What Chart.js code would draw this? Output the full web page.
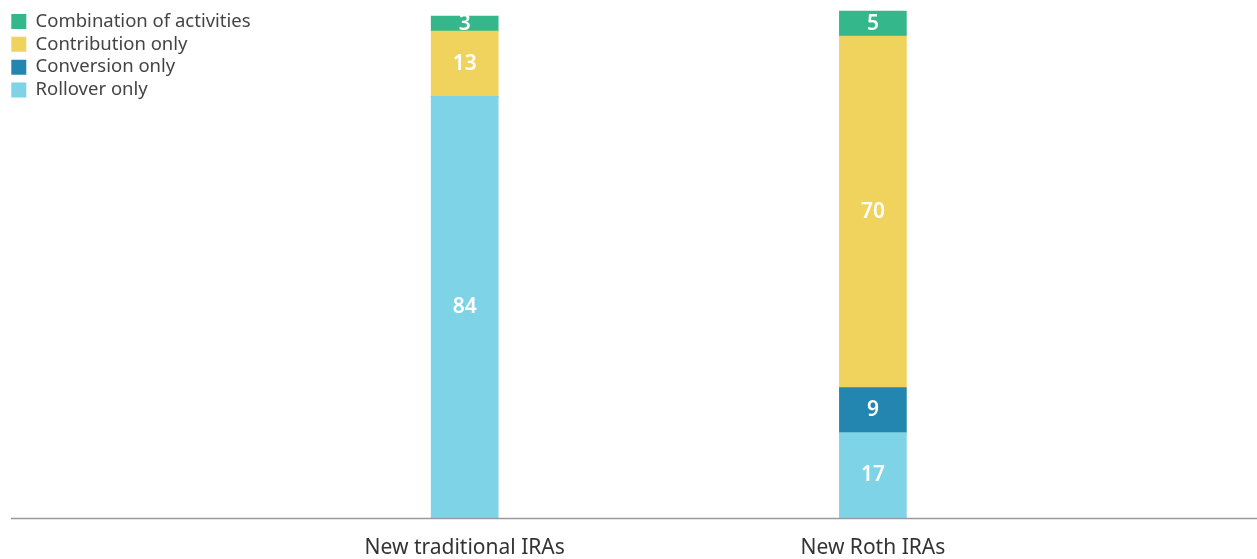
<!DOCTYPE html>
<html>
<head>
<meta charset="utf-8">
<script src="https://cdn.jsdelivr.net/npm/chart.js@4"></script>
<style>
  html, body { margin: 0; padding: 0; background: #fff; }
  #wrap { width: 1257px; height: 559px; }
</style>
</head>
<body>
<div id="wrap"><canvas id="iraChart"></canvas></div>
<script>
const categories = ['New traditional IRAs', 'New Roth IRAs'];
const rollover = [84, 17];
const conversion = [0, 9];
const contribution = [13, 70];
const combination = [3, 5];

// white numbers in the middle of each segment
const segmentLabels = {
    id: 'segmentLabels',
    afterDatasetsDraw(chart) {
        const ctx = chart.ctx;
        ctx.save();
        ctx.fillStyle = '#ffffff';
        ctx.font = '600 21px "Noto Sans"';
        ctx.textAlign = 'center';
        ctx.textBaseline = 'middle';
        chart.data.datasets.forEach((ds, i) => {
            const meta = chart.getDatasetMeta(i);
            meta.data.forEach((bar, j) => {
                const v = ds.data[j];
                if (!v) return;
                ctx.fillText(v, bar.x, (bar.y + bar.base) / 2);
            });
        });
        ctx.restore();
    }
};

// baseline running across the whole width
const baseline = {
    id: 'baseline',
    afterDraw(chart) {
        const ctx = chart.ctx;
        const y = Math.round(chart.scales.y.getPixelForValue(0)) + 0.5;
        ctx.save();
        ctx.strokeStyle = '#9a9a9a';
        ctx.lineWidth = 1.5;
        ctx.beginPath();
        ctx.moveTo(11, y);
        ctx.lineTo(chart.width, y);
        ctx.stroke();
        ctx.restore();
    }
};

const ctxIra = document.getElementById('iraChart').getContext('2d');
const iraChart = new Chart(ctxIra, {
    type: 'bar',
    data: {
        labels: categories,
        datasets: [
            { label: 'Rollover only', data: rollover, backgroundColor: '#7fd3e6' },
            { label: 'Conversion only', data: conversion, backgroundColor: '#2386b0' },
            { label: 'Contribution only', data: contribution, backgroundColor: '#f0d35c' },
            { label: 'Combination of activities', data: combination, backgroundColor: '#34b78a' }
        ]
    },
    options: {
        responsive: true,
        maintainAspectRatio: false,
        animation: false,
        layout: { padding: { top: 8, right: 180, left: 7, bottom: 0 } },
        datasets: { bar: { barThickness: 67 } },
        scales: {
            x: {
                stacked: true,
                grid: { display: false },
                border: { display: false },
                ticks: { color: '#333', font: { family: 'Noto Sans', size: 21 }, padding: 9 },
                afterFit(scale) { scale.height = 41; }
            },
            y: {
                stacked: true,
                display: false,
                min: 0,
                max: 101.6
            }
        },
        plugins: {
            legend: {
                position: 'left',
                align: 'start',
                reverse: true,
                labels: {
                    boxWidth: 15,
                    boxHeight: 15,
                    padding: 4.3,
                    color: '#444',
                    font: { family: 'Noto Sans', size: 18.5 }
                }
            },
            tooltip: { enabled: false }
        }
    },
    plugins: [segmentLabels, baseline]
});
</script>
</body>
</html>
